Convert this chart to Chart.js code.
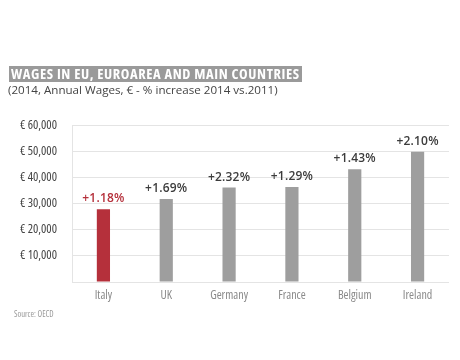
<!DOCTYPE html>
<html>
<head>
<meta charset="utf-8">
<script src="https://cdn.jsdelivr.net/npm/chart.js@4"></script>
<style>
  html, body { margin: 0; padding: 0; background: #fff; }
  #wrap { position: relative; width: 460px; height: 360px; overflow: hidden; font-family: "Open Sans", sans-serif; }
  #chart { position: absolute; left: 0; top: 0; }
  #title { position: absolute; left: 9px; top: 66px; height: 16px; line-height: 16px; padding: 0 2px 0 2px; background: #9a9a9a; color: #fff; font-weight: bold; font-size: 14.5px; font-stretch: condensed; letter-spacing: 0.6px; white-space: nowrap; }
  #subtitle { position: absolute; left: 8px; top: 82px; font-size: 11.6px; color: #444; white-space: nowrap; }
  #source { position: absolute; left: 14px; top: 308px; font-size: 8.5px; font-stretch: condensed; color: #999; white-space: nowrap; }
</style>
</head>
<body>
<div id="wrap">
  <canvas id="chart" width="460" height="360"></canvas>
  <div id="title">WAGES IN EU, EUROAREA AND MAIN COUNTRIES</div>
  <div id="subtitle">(2014, Annual Wages, € - % increase 2014 vs.2011)</div>
  <div id="source">Source: OECD</div>
</div>
<script>
const categories = ["Italy", "UK", "Germany", "France", "Belgium", "Ireland"];
const wages = [27800, 31700, 36100, 36300, 43100, 49800];
const increases = ["+1.18%", "+1.69%", "+2.32%", "+1.29%", "+1.43%", "+2.10%"];
const yTicks = [0, 10000, 20000, 30000, 40000, 50000, 60000];

const FONT = "'Open Sans', sans-serif";
const barColors = categories.map((c, i) => i === 0 ? "#b5303b" : "#9e9e9e");
const labelColors = categories.map((c, i) => i === 0 ? "#b5303b" : "#3c3c3c");

// Let a stretch keyword inside the font string set the canvas fontStretch
const canvas = document.getElementById("chart");
const ctx2d = canvas.getContext("2d");
const fontDesc = Object.getOwnPropertyDescriptor(CanvasRenderingContext2D.prototype, "font");
const STRETCH_RE = /(^|\s)(ultra-condensed|extra-condensed|semi-condensed|condensed)(?=\s)/;
Object.defineProperty(ctx2d, "font", {
  configurable: true,
  get() { return fontDesc.get.call(this); },
  set(v) {
    let stretch = "normal";
    const m = STRETCH_RE.exec(v);
    if (m) { stretch = m[2]; v = v.replace(STRETCH_RE, "$1").replace(/\s+/g, " ").trim(); }
    fontDesc.set.call(this, v);
    this.fontStretch = stretch;
  }
});

const valueLabels = {
  id: "valueLabels",
  afterDatasetsDraw(chart) {
    const ctx = chart.ctx;
    const meta = chart.getDatasetMeta(0);
    ctx.save();
    ctx.font = "600 12px " + FONT;
    ctx.letterSpacing = "0.2px";
    ctx.textAlign = "center";
    ctx.textBaseline = "alphabetic";
    meta.data.forEach((bar, i) => {
      ctx.fillStyle = labelColors[i];
      ctx.fillText(increases[i], bar.x, bar.y - 7);
    });
    ctx.restore();
  }
};

new Chart(canvas, {
  type: "bar",
  data: {
    labels: categories,
    datasets: [{
      data: wages,
      backgroundColor: barColors,
      borderWidth: 0,
      barPercentage: 0.21,
      categoryPercentage: 1.0
    }]
  },
  options: {
    responsive: false,
    animation: false,
    events: [],
    layout: { padding: { top: 125, right: 11, left: 0, bottom: 48 } },
    plugins: { legend: { display: false }, tooltip: { enabled: false }, title: { display: false } },
    scales: {
      x: {
        grid: { display: false, drawTicks: false },
        border: { display: false },
        ticks: { color: "#8a8a8a", font: { family: FONT, size: 12, weight: "condensed" }, padding: 6 },
        afterFit(scale) { scale.height = 30; }
      },
      y: {
        min: 0,
        max: 60000,
        afterBuildTicks(scale) { scale.ticks = yTicks.map(v => ({ value: v })); },
        grid: { color: "#e4e4e4", lineWidth: 1, drawTicks: false },
        border: { display: true, color: "#e4e4e4" },
        ticks: {
          color: "#444",
          font: { family: FONT, size: 12.5, weight: "condensed" },
          padding: 15,
          callback(v) { return v === 0 ? "" : "€ " + v.toLocaleString("en-US"); }
        },
        afterFit(scale) { scale.width = 72; }
      }
    }
  },
  plugins: [valueLabels]
});
</script>
</body>
</html>
